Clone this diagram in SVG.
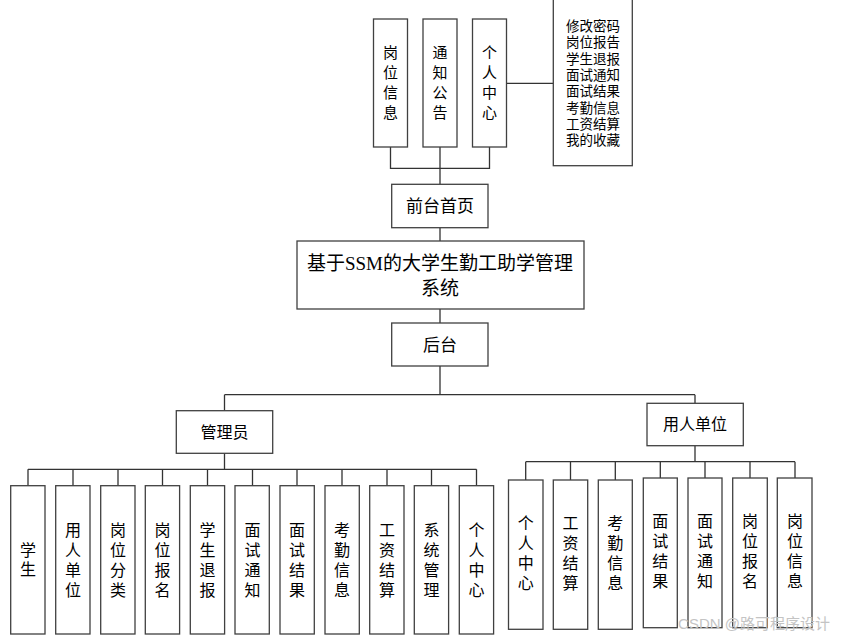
<svg xmlns="http://www.w3.org/2000/svg" width="841" height="640" viewBox="0 0 841 640">
<style>
.b{fill:#fff;stroke:#404040;stroke-width:1.3}
.c{fill:none;stroke:#333;stroke-width:1.3}
text{font-family:"Liberation Sans","Noto Sans CJK SC",sans-serif;fill:#000;text-anchor:middle}
.v{font-size:16px}
.t{font-size:15px}
.m{font-family:"Liberation Serif","Noto Sans CJK SC",serif;font-size:19px}
.l{font-size:17px}
.s{font-size:13.5px}
.w{font-size:15px;fill:#c4c4c4;text-anchor:end}
</style>
<rect width="841" height="640" fill="#fff"/>
<g id="connectors">
<path class="c" d="M390.5 147V168.3H489.5V147M440 147V184.3M506.3 83.3H553.3M440 227.7V241M440 309V323M440 366V394.7M224.5 394.7H695M224.5 394.7V410.7M695 394.7V403.3M224.5 453.3V469.3M28 469.3H476.5M28 469.3V485.7M73 469.3V485.7M118 469.3V485.7M162.5 469.3V485.7M207.5 469.3V485.7M252.5 469.3V485.7M297 469.3V485.7M342 469.3V485.7M387 469.3V485.7M431.5 469.3V485.7M476.5 469.3V485.7M695 445.7V461.7M525.7 461.7H795M525.7 461.7V480M570.5 461.7V480M615.3 461.7V480M660.3 461.7V478M705 461.7V478M750 461.7V478M795 461.7V478"/>
</g>
<g id="n_gwxx"><rect class="b" x="373.5" y="19" width="34" height="128"/><text class="t"><tspan x="390.5" y="57.5">岗</tspan><tspan x="390.5" y="77.5">位</tspan><tspan x="390.5" y="97.5">信</tspan><tspan x="390.5" y="117.5">息</tspan></text></g>
<g id="n_tzgg"><rect class="b" x="423" y="19" width="34" height="128"/><text class="t"><tspan x="440" y="57.5">通</tspan><tspan x="440" y="77.5">知</tspan><tspan x="440" y="97.5">公</tspan><tspan x="440" y="117.5">告</tspan></text></g>
<g id="n_grzx_top"><rect class="b" x="472.5" y="19" width="34" height="128"/><text class="t"><tspan x="489.5" y="57.5">个</tspan><tspan x="489.5" y="77.5">人</tspan><tspan x="489.5" y="97.5">中</tspan><tspan x="489.5" y="117.5">心</tspan></text></g>
<g id="n_list"><rect class="b" x="553.3" y="-1" width="79" height="166.7"/><text class="s"><tspan x="593" y="31">修改密码</tspan><tspan x="593" y="47.3">岗位报告</tspan><tspan x="593" y="63.6">学生退报</tspan><tspan x="593" y="79.9">面试通知</tspan><tspan x="593" y="96.2">面试结果</tspan><tspan x="593" y="112.5">考勤信息</tspan><tspan x="593" y="128.8">工资结算</tspan><tspan x="593" y="145.1">我的收藏</tspan></text></g>
<g id="n_qtsy"><rect class="b" x="391.7" y="184.3" width="96.3" height="43.4"/><text class="l" x="440" y="212">前台首页</text></g>
<g id="n_main"><rect class="b" x="297" y="241" width="287" height="68"/><text class="m"><tspan x="440" y="270">基于SSM的大学生勤工助学管理</tspan><tspan x="440" y="295">系统</tspan></text></g>
<g id="n_ht"><rect class="b" x="391.7" y="323" width="96.3" height="43"/><text class="l" x="440" y="351">后台</text></g>
<g id="n_admin"><rect class="b" x="176.3" y="410.7" width="96.4" height="42.6"/><text class="v" x="224.5" y="437.5">管理员</text></g>
<g id="n_company"><rect class="b" x="647" y="403.3" width="96.3" height="42.4"/><text class="v" x="695" y="430">用人单位</text></g>
<g id="a1"><rect class="b" x="10.7" y="485.7" width="34.3" height="148.3"/><text class="v"><tspan x="28" y="555.5">学</tspan><tspan x="28" y="575">生</tspan></text></g>
<g id="a2"><rect class="b" x="55.7" y="485.7" width="34.3" height="148.3"/><text class="v"><tspan x="73" y="535.5">用</tspan><tspan x="73" y="555.5">人</tspan><tspan x="73" y="575.5">单</tspan><tspan x="73" y="595.5">位</tspan></text></g>
<g id="a3"><rect class="b" x="100.7" y="485.7" width="34.3" height="148.3"/><text class="v"><tspan x="118" y="535.5">岗</tspan><tspan x="118" y="555.5">位</tspan><tspan x="118" y="575.5">分</tspan><tspan x="118" y="595.5">类</tspan></text></g>
<g id="a4"><rect class="b" x="145.3" y="485.7" width="34.3" height="148.3"/><text class="v"><tspan x="162.5" y="535.5">岗</tspan><tspan x="162.5" y="555.5">位</tspan><tspan x="162.5" y="575.5">报</tspan><tspan x="162.5" y="595.5">名</tspan></text></g>
<g id="a5"><rect class="b" x="190.3" y="485.7" width="34.3" height="148.3"/><text class="v"><tspan x="207.5" y="535.5">学</tspan><tspan x="207.5" y="555.5">生</tspan><tspan x="207.5" y="575.5">退</tspan><tspan x="207.5" y="595.5">报</tspan></text></g>
<g id="a6"><rect class="b" x="235" y="485.7" width="34.3" height="148.3"/><text class="v"><tspan x="252.5" y="535.5">面</tspan><tspan x="252.5" y="555.5">试</tspan><tspan x="252.5" y="575.5">通</tspan><tspan x="252.5" y="595.5">知</tspan></text></g>
<g id="a7"><rect class="b" x="280" y="485.7" width="34.3" height="148.3"/><text class="v"><tspan x="297" y="535.5">面</tspan><tspan x="297" y="555.5">试</tspan><tspan x="297" y="575.5">结</tspan><tspan x="297" y="595.5">果</tspan></text></g>
<g id="a8"><rect class="b" x="325" y="485.7" width="34.3" height="148.3"/><text class="v"><tspan x="342" y="535.5">考</tspan><tspan x="342" y="555.5">勤</tspan><tspan x="342" y="575.5">信</tspan><tspan x="342" y="595.5">息</tspan></text></g>
<g id="a9"><rect class="b" x="369.7" y="485.7" width="34.3" height="148.3"/><text class="v"><tspan x="387" y="535.5">工</tspan><tspan x="387" y="555.5">资</tspan><tspan x="387" y="575.5">结</tspan><tspan x="387" y="595.5">算</tspan></text></g>
<g id="a10"><rect class="b" x="414.3" y="485.7" width="34.3" height="148.3"/><text class="v"><tspan x="431.5" y="535.5">系</tspan><tspan x="431.5" y="555.5">统</tspan><tspan x="431.5" y="575.5">管</tspan><tspan x="431.5" y="595.5">理</tspan></text></g>
<g id="a11"><rect class="b" x="459.3" y="485.7" width="34.3" height="148.3"/><text class="v"><tspan x="476.5" y="535.5">个</tspan><tspan x="476.5" y="555.5">人</tspan><tspan x="476.5" y="575.5">中</tspan><tspan x="476.5" y="595.5">心</tspan></text></g>
<g id="c1"><rect class="b" x="508.5" y="480" width="34.5" height="149.3"/><text class="v"><tspan x="525.7" y="528.5">个</tspan><tspan x="525.7" y="548.5">人</tspan><tspan x="525.7" y="568.5">中</tspan><tspan x="525.7" y="588.5">心</tspan></text></g>
<g id="c2"><rect class="b" x="553.3" y="480" width="34.4" height="149.3"/><text class="v"><tspan x="570.5" y="528.5">工</tspan><tspan x="570.5" y="548.5">资</tspan><tspan x="570.5" y="568.5">结</tspan><tspan x="570.5" y="588.5">算</tspan></text></g>
<g id="c3"><rect class="b" x="598.3" y="480" width="34" height="149.3"/><text class="v"><tspan x="615.3" y="528.5">考</tspan><tspan x="615.3" y="548.5">勤</tspan><tspan x="615.3" y="568.5">信</tspan><tspan x="615.3" y="588.5">息</tspan></text></g>
<g id="c4"><rect class="b" x="643.3" y="478" width="34" height="149.7"/><text class="v"><tspan x="660.3" y="527">面</tspan><tspan x="660.3" y="547">试</tspan><tspan x="660.3" y="567">结</tspan><tspan x="660.3" y="587">果</tspan></text></g>
<g id="c5"><rect class="b" x="688" y="478" width="34" height="149.7"/><text class="v"><tspan x="705" y="527">面</tspan><tspan x="705" y="547">试</tspan><tspan x="705" y="567">通</tspan><tspan x="705" y="587">知</tspan></text></g>
<g id="c6"><rect class="b" x="732.7" y="478" width="34.6" height="149.7"/><text class="v"><tspan x="750" y="527">岗</tspan><tspan x="750" y="547">位</tspan><tspan x="750" y="567">报</tspan><tspan x="750" y="587">名</tspan></text></g>
<g id="c7"><rect class="b" x="777.3" y="478" width="34.7" height="149.7"/><text class="v"><tspan x="795" y="527">岗</tspan><tspan x="795" y="547">位</tspan><tspan x="795" y="567">信</tspan><tspan x="795" y="587">息</tspan></text></g>
<text class="w" x="830" y="629">CSDN @路可程序设计</text>
</svg>
